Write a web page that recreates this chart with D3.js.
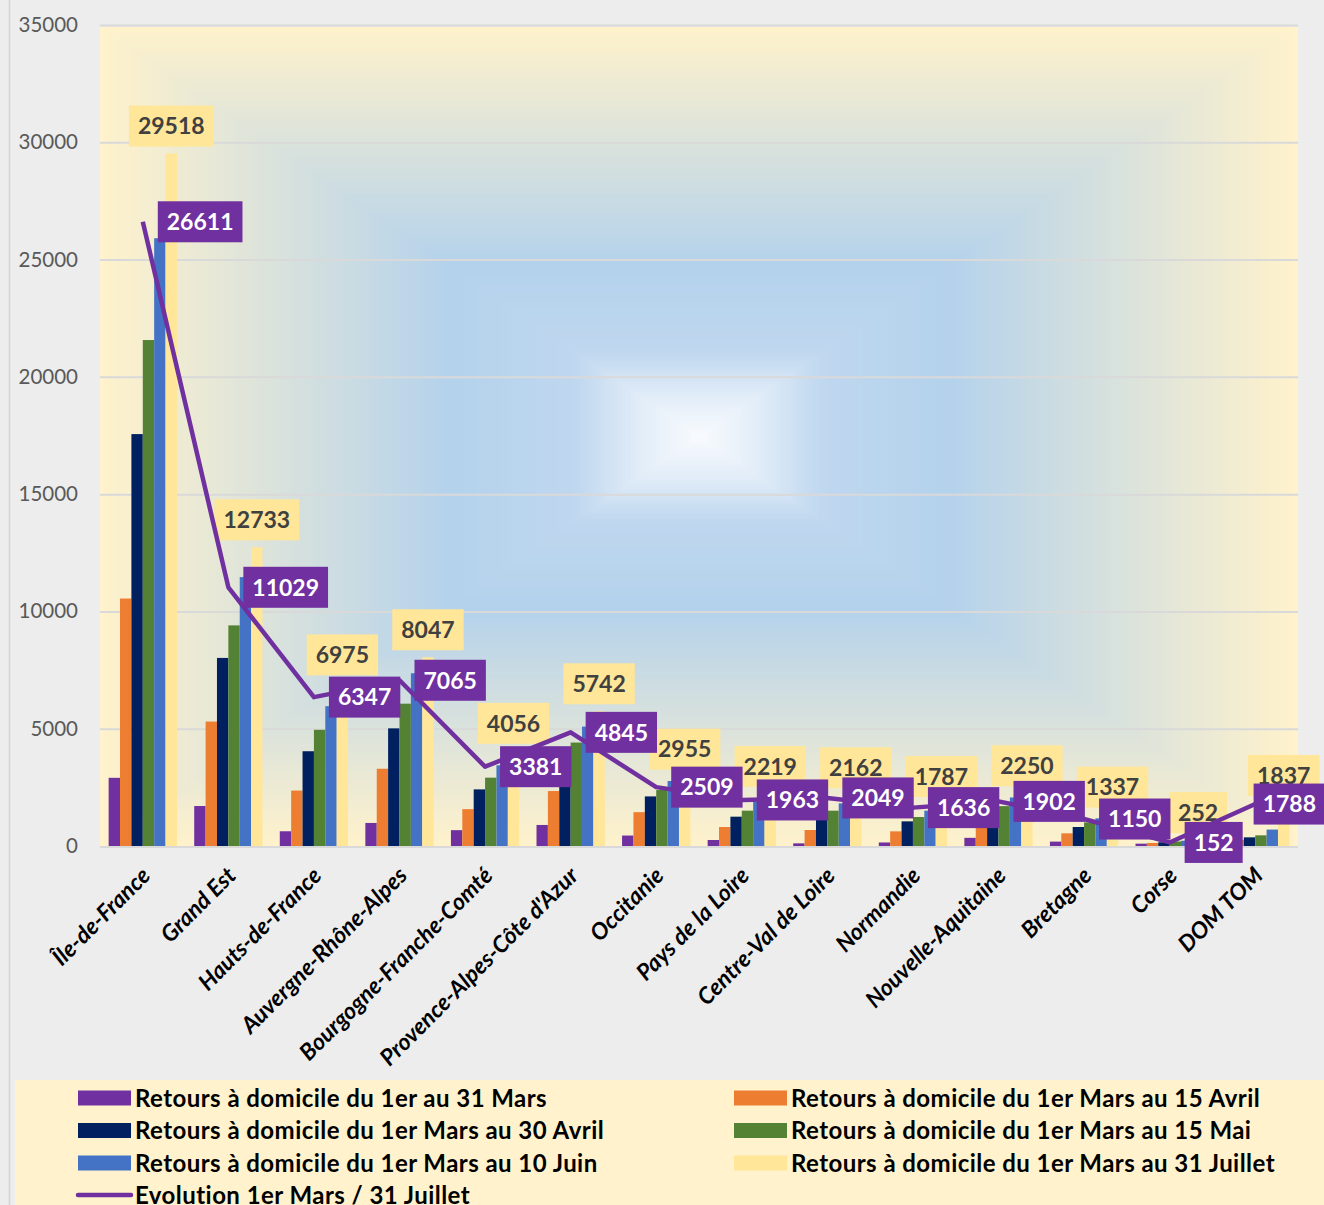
<!DOCTYPE html>
<html lang="fr">
<head>
<meta charset="utf-8">
<title>Retours à domicile par région</title>
<script src="https://cdn.jsdelivr.net/npm/d3@7"></script>
<style>
  html, body { margin: 0; padding: 0; background: #ededed; }
  svg { display: block; }
  text { font-family: Lato, "Open Sans", sans-serif; }
</style>
</head>
<body>
<svg id="chart" width="1324" height="1205"></svg>
<script>
// Régions
const categories = ["Île-de-France", "Grand Est", "Hauts-de-France", "Auvergne-Rhône-Alpes",
  "Bourgogne-Franche-Comté", "Provence-Alpes-Côte d'Azur", "Occitanie", "Pays de la Loire",
  "Centre-Val de Loire", "Normandie", "Nouvelle-Aquitaine", "Bretagne", "Corse", "DOM TOM"];

// Retours à domicile cumulés, par période
const mars31   = [2907, 1704, 628, 982, 675, 897, 446, 256, 113, 151, 348, 187, 100, 49];
const avril15  = [10550, 5305, 2363, 3293, 1571, 2343, 1443, 810, 682, 625, 900, 540, 130, 256];
const avril30  = [17560, 8018, 4040, 5015, 2414, 3550, 2114, 1250, 1200, 1051, 1250, 810, 160, 369];
const mai15    = [21570, 9405, 4954, 6067, 2914, 4410, 2386, 1506, 1506, 1236, 1700, 1009, 195, 455];
const juin10   = [25910, 11463, 5960, 7363, 3440, 5090, 2771, 1890, 1818, 1506, 2070, 1180, 225, 700];
const juillet31 = [29518, 12733, 6975, 8047, 4056, 5742, 2955, 2219, 2162, 1787, 2250, 1337, 252, 1837];

// Évolution entre le 1er mars et le 31 juillet
const evolution = [26611, 11029, 6347, 7065, 3381, 4845, 2509, 1963, 2049, 1636, 1902, 1150, 152, 1788];

const seriesNames = [
  "Retours à domicile du 1er au 31 Mars",
  "Retours à domicile du 1er Mars au 15 Avril",
  "Retours à domicile du 1er Mars au 30 Avril",
  "Retours à domicile du 1er Mars au 15 Mai",
  "Retours à domicile du 1er Mars au 10 Juin",
  "Retours à domicile du 1er Mars au 31 Juillet"
];
const lineName = "Evolution 1er Mars / 31 Juillet";
const yTicks = [0, 5000, 10000, 15000, 20000, 25000, 30000, 35000];

const seriesValues = [mars31, avril15, avril30, mai15, juin10, juillet31];
const colors = ["#7030a0", "#ed7d31", "#002060", "#548235", "#4472c4", "#ffe699"];
const lineColor = "#7030a0";

const svg = d3.select("#chart");
const plot = { left: 100, right: 1298, top: 25, bottom: 846 };

// Chart area border
svg.append("rect")
  .attr("x", 9.5).attr("y", -10).attr("width", 1340).attr("height", 1240)
  .attr("fill", "#ededed").attr("stroke", "#d4d4d4").attr("stroke-width", 1.5);

// Plot area: rectangular gradient from the centre outwards
const bg = svg.append("g");
const cx = (plot.left + plot.right) / 2, cy = (plot.top + 2 + plot.bottom) / 2;
const hw = (plot.right - plot.left) / 2, hh = (plot.bottom - plot.top - 2) / 2;
const bgStops = [
  [0.00, "#f9fbfe"],
  [0.10, "#e2edf8"],
  [0.21, "#bfd7ef"],
  [0.42, "#b4d2ec"],
  [1.00, "#fff2cc"]
];
const bgColor = d3.scaleLinear().domain(bgStops.map(s => s[0])).range(bgStops.map(s => s[1]))
  .interpolate(d3.interpolateRgb);
const steps = 140;
for (let i = steps; i >= 1; i--) {
  const d = i / steps;
  bg.append("rect")
    .attr("x", cx - hw * d).attr("y", cy - hh * d)
    .attr("width", 2 * hw * d).attr("height", 2 * hh * d)
    .attr("fill", bgColor(d));
}

// Scales
const x0 = d3.scaleBand().domain(categories).range([plot.left, plot.right]).padding(0);
const bw = x0.bandwidth();
const x1 = d3.scaleBand().domain(d3.range(seriesNames.length))
  .range([bw * 0.101, bw * 0.899]).padding(0);
const y = d3.scaleLinear().domain([0, 35000]).range([plot.bottom, plot.top]);

// Gridlines
svg.append("g")
  .attr("transform", `translate(${plot.left},0)`)
  .call(d3.axisLeft(y).tickValues(yTicks.slice(1)).tickSize(-(plot.right - plot.left)).tickFormat(""))
  .call(g => g.select(".domain").remove())
  .call(g => g.selectAll("line").attr("stroke", "#d9d9d9").attr("stroke-width", 2));

// Y axis labels
svg.append("g")
  .attr("transform", `translate(${plot.left},0)`)
  .call(d3.axisLeft(y).tickValues(yTicks).tickSize(0).tickPadding(22).tickFormat(d3.format("d")))
  .call(g => g.select(".domain").remove())
  .call(g => g.selectAll("text").attr("fill", "#595959").attr("font-size", 20.5).attr("font-family", "Lato, sans-serif"));

// Bars
const groups = svg.append("g").selectAll("g")
  .data(categories).join("g")
  .attr("transform", d => `translate(${x0(d)},0)`);
groups.selectAll("rect")
  .data((c, ci) => seriesValues.map((vals, si) => ({ si, v: vals[ci] })))
  .join("rect")
  .attr("x", d => x1(d.si))
  .attr("width", x1.bandwidth())
  .attr("y", d => y(d.v))
  .attr("height", d => y(0) - y(d.v))
  .attr("fill", d => colors[d.si]);

// Category axis line
svg.append("line")
  .attr("x1", plot.left).attr("x2", plot.right)
  .attr("y1", plot.bottom + 1).attr("y2", plot.bottom + 1)
  .attr("stroke", "#d9d9d9").attr("stroke-width", 2);

// Category labels (rotated)
svg.append("g").selectAll("text")
  .data(categories).join("text")
  .attr("transform", d => `translate(${x0(d) + bw / 2 + 9},${plot.bottom + 31}) rotate(-45)`)
  .attr("text-anchor", "end")
  .attr("font-size", 23).attr("font-weight", 700).attr("font-style", "italic")
  .attr("fill", "#000")
  .text(d => d);

// Labels of the 31 Juillet series (above the bars)
const yellowX = c => x0(c) + x1(5) + x1.bandwidth() / 2;
const labelH = 41;
const lblYellow = svg.append("g");
categories.forEach((c, i) => {
  const g = lblYellow.append("g");
  const t = g.append("text")
    .attr("x", yellowX(c)).attr("y", y(juillet31[i]) - 7 - labelH / 2)
    .attr("dy", "0.36em").attr("text-anchor", "middle")
    .attr("font-size", 23).attr("font-weight", 700).attr("fill", "#404040")
    .text(juillet31[i]);
  const w = t.node().getComputedTextLength() + 18;
  g.insert("rect", "text")
    .attr("x", yellowX(c) - w / 2).attr("y", y(juillet31[i]) - 7 - labelH)
    .attr("width", w).attr("height", labelH).attr("fill", "#ffe699");
});

// Evolution line
const linePts = categories.map((c, i) => [x0(c) + bw / 2, y(evolution[i])]);
svg.append("path")
  .attr("d", d3.line()(linePts))
  .attr("fill", "none").attr("stroke", lineColor).attr("stroke-width", 4.5)
  .attr("stroke-linejoin", "round");

// Evolution labels (right of each point)
const lblLine = svg.append("g");
categories.forEach((c, i) => {
  const [px, py] = linePts[i];
  const g = lblLine.append("g");
  const t = g.append("text")
    .attr("y", py).attr("dy", "0.36em").attr("text-anchor", "middle")
    .attr("font-size", 23).attr("font-weight", 700).attr("fill", "#ffffff")
    .text(evolution[i]);
  const w = t.node().getComputedTextLength() + 18;
  let left = px + 15;
  if (left + w > 1325) left = 1325 - w;
  t.attr("x", left + w / 2);
  g.insert("rect", "text")
    .attr("x", left).attr("y", py - labelH / 2)
    .attr("width", w).attr("height", labelH).attr("fill", lineColor);
});

// Legend
const legend = svg.append("g");
legend.append("rect")
  .attr("x", 15).attr("y", 1080).attr("width", 1320).attr("height", 140)
  .attr("fill", "#fff2cc");
const legItems = seriesNames.map((n, i) => ({ name: n, color: colors[i], type: "bar", col: i % 2, row: Math.floor(i / 2) }))
  .concat([{ name: lineName, color: lineColor, type: "line", col: 0, row: 3 }]);
const colX = [78, 734];
const rowY = [1098, 1130.5, 1163, 1195];
legItems.forEach(it => {
  const gx = colX[it.col], gy = rowY[it.row];
  if (it.type === "bar") {
    legend.append("rect").attr("x", gx).attr("y", gy - 7.5).attr("width", 53).attr("height", 15).attr("fill", it.color);
  } else {
    legend.append("line").attr("x1", gx).attr("x2", gx + 53).attr("y1", gy).attr("y2", gy)
      .attr("stroke", it.color).attr("stroke-width", 4.5).attr("stroke-linecap", "round");
  }
  legend.append("text")
    .attr("x", gx + 57).attr("y", gy).attr("dy", "0.36em")
    .attr("font-size", 24).attr("font-weight", 700).attr("letter-spacing", 0.45).attr("fill", "#000")
    .text(it.name);
});
</script>
</body>
</html>
